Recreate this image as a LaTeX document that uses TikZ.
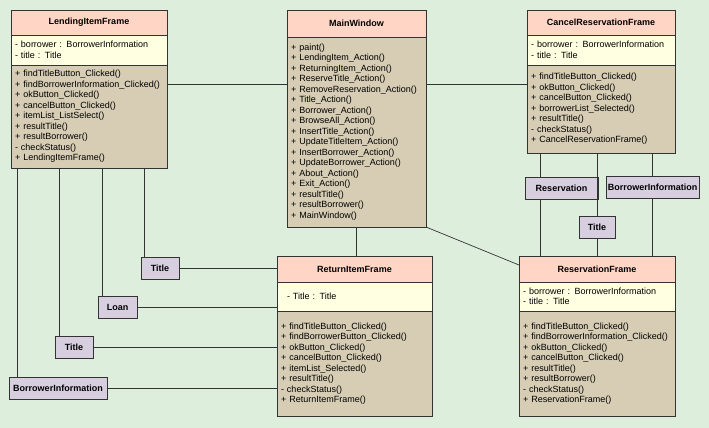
\documentclass[tikz,border=0pt]{standalone}
\usepackage{fontspec}
\setmainfont{Liberation Sans}
\usetikzlibrary{
  positioning,
  calc, shadows
}
\definecolor{bgcol}{HTML}{DEEEDC}
\definecolor{headcol}{HTML}{FFD6C6}
\definecolor{attrcol}{HTML}{FFFFE1}
\definecolor{opcol}{HTML}{D6CDB4}
\definecolor{refcol}{HTML}{D7CEE0}
\definecolor{linecol}{HTML}{333333}
\tikzset{
  part/.style={
    draw=linecol,
    line width=0.8pt,
    inner xsep=4pt,
    inner ysep=0pt,
    outer sep=0pt,
    font=\fontsize{9}{10.5}\selectfont,
    drop shadow={shadow xshift=1pt, shadow yshift=-1pt, fill=black!35, opacity=1},
  },
  head/.style={
    part,
    fill=headcol,
    text width=#1,
    align=center,
    font=\fontsize{9}{10.5}\selectfont\bfseries,
  },
  attrs/.style={
    part,
    fill=attrcol,
    text width=#1,
    align=left,
  },
  ops/.style={
    part,
    fill=opcol,
    text width=#1,
    align=left,
  },
  ref/.style={
    part,
    fill=refcol,
    anchor=north west,
    minimum height=22pt,
    inner xsep=0pt,
    font=\fontsize{9}{10.5}\selectfont\bfseries,
  },
  assoc/.style={
    draw=linecol,
    line width=0.7pt,
  },
}

\begin{document}
\begin{tikzpicture}[x=1pt, y=1pt]
		\path[use as bounding box, fill=bgcol] (0,0) rectangle (709,-428);

		% classes
		\node[head=148pt, minimum height=25pt, anchor=north west] (lif-h) at (11,-10) {LendingItemFrame};
		\node[attrs=148pt, minimum height=30pt, below=0pt of lif-h] (lif-a) {- borrower : BorrowerInformation\\- title : Title};
		\node[ops=148pt, minimum height=103pt, below=0pt of lif-a] (lif-o) {+ findTitleButton\_Clicked()\\+ findBorrowerInformation\_Clicked()\\+ okButton\_Clicked()\\+ cancelButton\_Clicked()\\+ itemList\_ListSelect()\\+ resultTitle()\\+ resultBorrower()\\- checkStatus()\\+ LendingItemFrame()};

		\node[head=131pt, minimum height=27pt, anchor=north west] (mw-h) at (287,-10) {MainWindow};
		\node[ops=131pt, minimum height=190pt, below=0pt of mw-h] (mw-o) {+ paint()\\+ LendingItem\_Action()\\+ ReturningItem\_Action()\\+ ReserveTitle\_Action()\\+ RemoveReservation\_Action()\\+ Title\_Action()\\+ Borrower\_Action()\\+ BrowseAll\_Action()\\+ InsertTitle\_Action()\\+ UpdateTitleItem\_Action()\\+ InsertBorrower\_Action()\\+ UpdateBorrower\_Action()\\+ About\_Action()\\+ Exit\_Action()\\+ resultTitle()\\+ resultBorrower()\\+ MainWindow()};

		\node[head=140pt, minimum height=25pt, anchor=north west] (crf-h) at (527,-10) {CancelReservationFrame};
		\node[attrs=140pt, minimum height=30pt, below=0pt of crf-h] (crf-a) {- borrower : BorrowerInformation\\- title : Title};
		\node[ops=140pt, minimum height=88pt, below=0pt of crf-a] (crf-o) {+ findTitleButton\_Clicked()\\+ okButton\_Clicked()\\+ cancelButton\_Clicked()\\+ borrowerList\_Selected()\\+ resultTitle()\\- checkStatus()\\+ CancelReservationFrame()};

		\node[head=147pt, minimum height=26pt, anchor=north west] (rif-h) at (277,-256) {ReturnItemFrame};
		\node[attrs=147pt, minimum height=29pt, below=0pt of rif-h] (rif-a) {\hspace*{6pt}- Title : Title};
		\node[ops=147pt, minimum height=105pt, below=0pt of rif-a] (rif-o) {+ findTitleButton\_Clicked()\\+ findBorrowerButton\_Clicked()\\+ okButton\_Clicked()\\+ cancelButton\_Clicked()\\+ itemList\_Selected()\\+ resultTitle()\\- checkStatus()\\+ ReturnItemFrame()};

		\node[head=148pt, minimum height=26pt, anchor=north west] (rsf-h) at (519,-256) {ReservationFrame};
		\node[attrs=148pt, minimum height=29pt, below=0pt of rsf-h] (rsf-a) {- borrower : BorrowerInformation\\- title : Title};
		\node[ops=148pt, minimum height=105pt, below=0pt of rsf-a] (rsf-o) {+ findTitleButton\_Clicked()\\+ findBorrowerInformation\_Clicked()\\+ okButton\_Clicked()\\+ cancelButton\_Clicked()\\+ resultTitle()\\+ resultBorrower()\\- checkStatus()\\+ ReservationFrame()};

		% referenced classes
		\node[ref, minimum width=38pt] (tit1) at (141,-257) {Title};
		\node[ref, minimum width=39pt] (loan) at (98,-296) {Loan};
		\node[ref, minimum width=38pt] (tit2) at (55,-336) {Title};
		\node[ref, minimum width=98pt] (bi1) at (9,-377) {BorrowerInformation};
		\node[ref, minimum width=73pt] (res) at (525,-177) {Reservation};
		\node[ref, minimum width=93pt] (bi2) at (606,-176) {BorrowerInformation};
		\node[ref, minimum width=36pt] (tit3) at (579,-216) {Title};

		% edges
		\draw[assoc] ([yshift=-19pt]lif-o.north east) coordinate (c1) -- (c1 -| mw-o.west);
		\draw[assoc] ([yshift=-19pt]crf-o.north west) coordinate (c2) -- (c2 -| mw-o.east);
		\draw[assoc] (mw-o.south) -- (mw-o.south |- rif-h.north);
		\draw[assoc] (mw-o.south east) -- ([yshift=-9pt]rsf-h.north west);

		\draw[assoc] ([xshift=3pt]tit1.north west) coordinate (c3) -- (c3 |- lif-o.south);
		\draw[assoc] ([xshift=4pt]loan.north west) coordinate (c4) -- (c4 |- lif-o.south);
		\draw[assoc] ([xshift=4pt]tit2.north west) coordinate (c5) -- (c5 |- lif-o.south);
		\draw[assoc] ([xshift=8pt]bi1.north west) coordinate (c6) -- (c6 |- lif-o.south);
		\foreach \r in {tit1, loan, tit2, bi1}
			\draw[assoc] (\r.east) -- (\r.east -| rif-h.west);

		\draw[assoc] ([xshift=15pt]res.north west) coordinate (c7) -- (c7 |- crf-o.south);
		\draw[assoc] ([xshift=15pt]res.south west) coordinate (c8) -- (c8 |- rsf-h.north);
		\foreach \r in {tit3, bi2} {
			\draw[assoc] (\r.north) -- (\r.north |- crf-o.south);
			\draw[assoc] (\r.south) -- (\r.south |- rsf-h.north);
		}
	\end{tikzpicture}
\end{document}
